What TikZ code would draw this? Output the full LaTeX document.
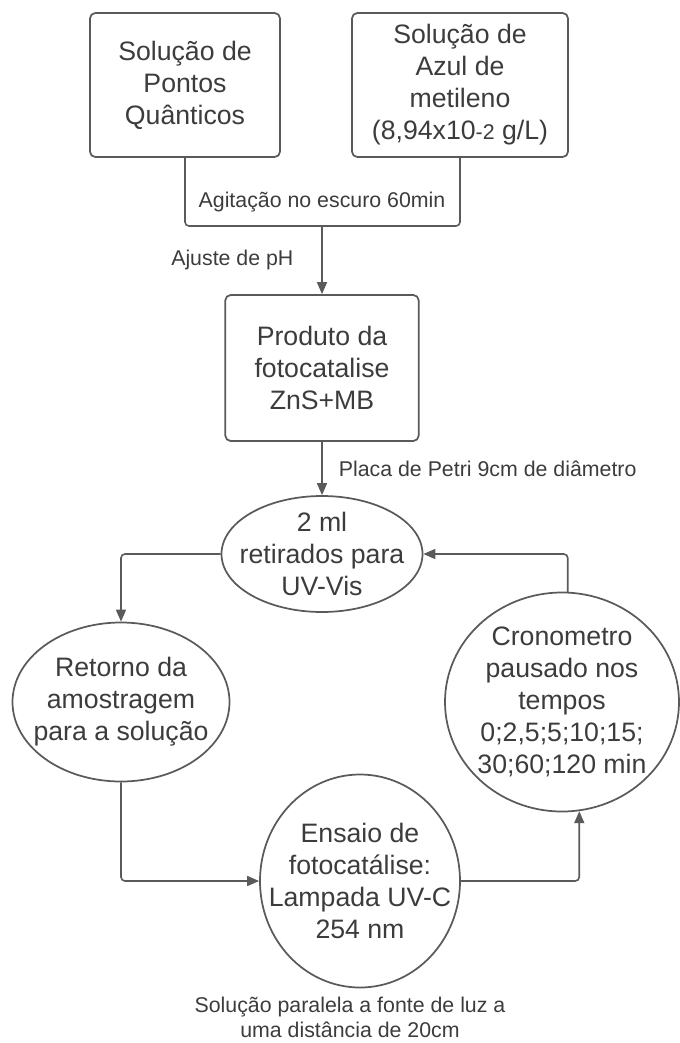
\documentclass[tikz,border=0pt]{standalone}
\usepackage{fontspec}
\setmainfont{Liberation Sans}
\usetikzlibrary{arrows.meta,calc,positioning,shapes.geometric}
\tikzstyle{caixa} = [rectangle, rounded corners=4pt, draw=linha, line width=1.3pt, text=texto, align=center, font=\fontsize{20}{24}\selectfont]
\tikzstyle{elipse} = [ellipse, draw=linha, line width=1.3pt, text=texto, align=center, inner sep=-20pt, font=\fontsize{20}{24}\selectfont]
\tikzstyle{rotulo} = [text=texto, align=center, font=\fontsize{16}{19}\selectfont]
\tikzstyle{line} = [draw, line width=1.2pt, color=linha, rounded corners=3pt]
\tikzstyle{seta} = [line, -{Triangle[length=9pt,width=7.5pt]}]
\definecolor{linha}{HTML}{5A5A5A}
\definecolor{texto}{HTML}{3C3C3C}

\begin{document}
\begin{tikzpicture}[x=0.75pt,y=-0.75pt,node distance=139.5pt]
  \useasboundingbox (0,0) rectangle (680,1043);
  \node (pontos) [caixa, minimum width=142.5pt, minimum height=108pt] at (185,85) {Solução de\\Pontos\\Quânticos};
  \node (azul) [caixa, minimum width=162pt, minimum height=108pt] at (460,85) {Solução de\\Azul de\\metileno\\(8,94x10{\fontsize{16}{16}\selectfont-2} g/L)};
  \coordinate (juncao) at (322,226);
  \draw [line] (pontos.south) |- (juncao) -| (azul.south);
  \node (agitacao) [rotulo, above=7pt of juncao] {Agitação no escuro 60min};
  \node (produto) [caixa, minimum width=145pt, minimum height=109.5pt] at (322,368) {Produto da\\fotocatalise\\ZnS+MB};
  \draw [seta] (juncao) -- node [rotulo, left, xshift=-17.5pt] {Ajuste de pH} (produto);
  \node (retirada) [elipse, below of=produto, minimum width=150.75pt, minimum height=87pt] {2 ml\\retirados para\\UV-Vis};
  \draw [seta] (produto) -- node [rotulo, right, xshift=8.7pt] {Placa de Petri 9cm de diâmetro} (retirada);
  \node (retorno) [elipse, minimum width=162.75pt, minimum height=119.25pt] at (121,702) {Retorno da\\amostragem\\para a solução};
  \node (ensaio) [elipse, minimum width=150pt, minimum height=159.75pt] at (360,881) {Ensaio de\\fotocatálise:\\Lampada UV-C\\254 nm};
  \node (crono) [elipse, minimum width=175.5pt, minimum height=164.25pt] at (562,702) {Cronometro\\pausado nos\\tempos\\0;2,5;5;10;15;\\30;60;120 min};
  \node (distancia) [rotulo, below=3pt of ensaio, xshift=-7.5pt] {Solução paralela a fonte de luz a\\uma distância de 20cm};
  % ciclo de amostragem
  \path [seta] (retirada.west) -| (retorno.north);
  \path [seta] (retorno.south) |- (ensaio.west);
  \path [seta] (ensaio.east) -| (crono.-81);
  \path [seta] (crono.87) |- (retirada.east);
\end{tikzpicture}
\end{document}
